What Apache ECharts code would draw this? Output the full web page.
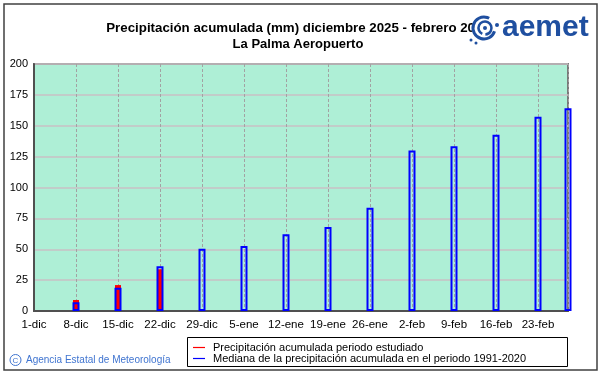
<!DOCTYPE html>
<html>
<head>
<meta charset="utf-8">
<script src="https://cdn.jsdelivr.net/npm/echarts@6/dist/echarts.min.js"></script>
<style>html,body{margin:0;padding:0;background:#fff}#c{width:601px;height:374px}</style>
</head>
<body>
<div id="c"></div>
<script>
// ---- data ----
const tickLabels = ['1-dic','8-dic','15-dic','22-dic','29-dic','5-ene','12-ene','19-ene','26-ene','2-feb','9-feb','16-feb','23-feb'];
const barDays = [7,14,21,28,35,42,49,56,63,70,77,84,89];          // days since 1-dic
const medianValues = [7,18.8,36.3,50.5,52.6,62.1,68,83.7,130,133.4,142.8,157.3,164.1];
const studiedDays = [7,14,21];
const studiedValues = [8.9,21,33.8];
const titleLines = ['Precipitación acumulada (mm) diciembre 2025 - febrero 2026','La Palma Aeropuerto'];
const seriesNames = ['Precipitación acumulada periodo estudiado','Mediana de la precipitación acumulada en el periodo 1991-2020'];
const footer = 'Agencia Estatal de Meteorología';

const FONT = '"Liberation Sans", Arial, sans-serif';
const chart = echarts.init(document.getElementById('c'), null, {renderer:'canvas'});

const xAxisBase = {
  type:'value', min:0, max:89, interval:7,
  axisTick:{show:false},
  axisLine:{show:true, onZero:false, lineStyle:{color:'#505050', width:2}},
};

chart.setOption({
  animation:false,
  backgroundColor:'#ffffff',
  grid:{left:34, right:33, top:64, bottom:63, show:true, backgroundColor:'#aeefd6', borderColor:'#7a7a7a', borderWidth:2},
  xAxis:[
    Object.assign({}, xAxisBase, {
      axisLabel:{show:true, color:'#000', fontFamily:FONT, fontSize:11.5, margin:8,
        formatter:(v)=>{ const i = Math.round(v/7); return (v%7===0 && tickLabels[i]!==undefined) ? tickLabels[i] : ''; }},
      splitLine:{show:true, lineStyle:{color:'#a2a2a2', width:1, type:[3,2]}}
    }),
    Object.assign({}, xAxisBase, {show:false, splitLine:{show:false}})
  ],
  yAxis:{
    type:'value', min:0, max:200, interval:25,
    axisTick:{show:false},
    axisLine:{show:true, lineStyle:{color:'#505050', width:2}},
    axisLabel:{color:'#000', fontFamily:FONT, fontSize:11, margin:6},
    splitLine:{show:true, lineStyle:{color:'#c8c0c4', width:1.5}}
  },
  legend:{
    left:193, top:342, orient:'vertical', itemGap:0, padding:0,
    itemWidth:12, itemHeight:1.2, icon:'rect', selectedMode:false,
    textStyle:{fontFamily:FONT, fontSize:11, color:'#000', lineHeight:11, padding:[0,0,0,3]},
    data:[
      {name:seriesNames[0], itemStyle:{color:'#ff0000', borderWidth:0}},
      {name:seriesNames[1], itemStyle:{color:'#0000ff', borderWidth:0}}
    ]
  },
  series:[
    {
      name:seriesNames[0], type:'bar', xAxisIndex:0, barWidth:6, z:2,
      itemStyle:{color:'#ff0000'},
      data: studiedDays.map((d,i)=>[d, studiedValues[i]])
    },
    {
      name:seriesNames[1], type:'bar', xAxisIndex:1, barWidth:7, z:3,
      itemStyle:{color:'rgba(0,0,0,0)', borderColor:'#0000ff', borderWidth:2},
      data: barDays.map((d,i)=>[d, medianValues[i]])
    }
  ],
  graphic:[
    {type:'rect', shape:{x:4, y:4, width:593, height:366}, style:{fill:null, stroke:'#404040', lineWidth:1.5}, z:100},
    {type:'rect', shape:{x:187.5, y:337.5, width:380, height:29}, style:{fill:null, stroke:'#000', lineWidth:1}, z:100},
    {type:'text', x:298, y:28, style:{text:titleLines[0], font:'bold 13.3px '+FONT, fill:'#000', textAlign:'center', textVerticalAlign:'middle'}, z:100},
    {type:'text', x:298, y:44, style:{text:titleLines[1], font:'bold 13px '+FONT, fill:'#000', textAlign:'center', textVerticalAlign:'middle'}, z:100},
    // footer
    {type:'circle', shape:{cx:15.5, cy:360, r:5.5}, style:{fill:null, stroke:'#3f74d0', lineWidth:1}, z:100},
    {type:'text', x:15.5, y:360.5, style:{text:'C', font:'8px '+FONT, fill:'#3f74d0', textAlign:'center', textVerticalAlign:'middle'}, z:100},
    {type:'text', x:26, y:360.5, style:{text:footer, font:'10px '+FONT, fill:'#3f74d0', textAlign:'left', textVerticalAlign:'middle'}, z:100},
    // logo
    {type:'group', z:101, children:[
      {type:'circle', shape:{cx:484, cy:28, r:12}, style:{fill:'#ffffff', stroke:null}, z:101},
      {type:'arc', shape:{cx:484, cy:28, r:11, startAngle:0.3, endAngle:5.2}, style:{fill:null, stroke:'#1f4fa0', lineWidth:3}, z:102},
      {type:'arc', shape:{cx:485, cy:28, r:6.5, startAngle:2.0, endAngle:7.8}, style:{fill:null, stroke:'#1f4fa0', lineWidth:2.5}, z:102},
      {type:'circle', shape:{cx:485, cy:28, r:2}, style:{fill:'#1f4fa0'}, z:102},
      {type:'circle', shape:{cx:497, cy:25, r:2}, style:{fill:'#1f4fa0'}, z:102},
      {type:'circle', shape:{cx:471, cy:40, r:1.5}, style:{fill:'#1f4fa0'}, z:102},
      {type:'circle', shape:{cx:476, cy:43, r:1.5}, style:{fill:'#1f4fa0'}, z:102},
      {type:'text', x:502, y:28, style:{text:'aemet', font:'bold 30px '+FONT, fill:'#1f4fa0', textAlign:'left', textVerticalAlign:'middle'}, z:102}
    ]}
  ]
});
</script>
</body>
</html>
